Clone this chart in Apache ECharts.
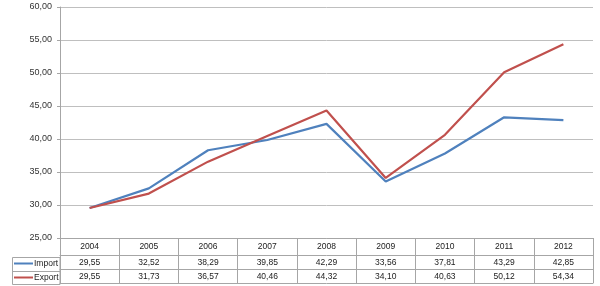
<!DOCTYPE html>
<html><head><meta charset="utf-8">
<script src="https://cdn.jsdelivr.net/npm/echarts@6/dist/echarts.min.js"></script>
<style>html,body{margin:0;padding:0;background:#fff}#c{width:600px;height:286px}</style>
</head><body><div id="c"></div>
<script>
const years = ['2004','2005','2006','2007','2008','2009','2010','2011','2012'];
const importVals = [29.55, 32.52, 38.29, 39.85, 42.29, 33.56, 37.81, 43.29, 42.85];
const exportVals = [29.55, 31.73, 36.57, 40.46, 44.32, 34.10, 40.63, 50.12, 54.34];
const yTicks = {min: 25, max: 60, interval: 5};

const fmt = v => v.toFixed(2).replace('.', ',');
const FONT = 'Liberation Sans';
const lineCol = '#a6a6a6';
const chart = echarts.init(document.getElementById('c'), null, {renderer: 'canvas'});

function tableAxis(labels, offset, margin, showLine) {
  return {
    type: 'category', data: labels, position: 'bottom', offset: offset,
    boundaryGap: true,
    axisLine: {show: showLine, lineStyle: {color: lineCol, width: 1}},
    axisTick: {show: false},
    axisLabel: {show: true, margin: margin, color: '#222', fontFamily: FONT, fontSize: 8.5, interval: 0, hideOverlap: false},
    splitLine: {show: false}
  };
}
function legendFor(name, top) {
  return {
    orient: 'horizontal', left: 14, top: top, itemWidth: 19, itemHeight: 2, padding: 0,
    icon: 'rect', textStyle: {fontFamily: FONT, fontSize: 8.5, color: '#222', padding: [0,0,0,-4]},
    data: [name]
  };
}

chart.setOption({
  animation: false,
  textStyle: {fontFamily: FONT},
  grid: {left: 60, right: 7, top: 7, bottom: 46, containLabel: false},
  legend: [legendFor('Import', 259), legendFor('Export', 273)],
  xAxis: [
    {
      type: 'category', data: years, position: 'bottom', boundaryGap: true,
      axisLine: {show: true, lineStyle: {color: lineCol, width: 1}},
      axisTick: {show: true, length: 45, inside: false, lineStyle: {color: lineCol}},
      axisLabel: {margin: 4, color: '#222', fontFamily: FONT, fontSize: 8.5, interval: 0},
      splitLine: {show: false}
    },
    tableAxis(importVals.map(fmt), 17, 3, true),
    tableAxis(exportVals.map(fmt), 31, 3, true),
    tableAxis(years.map(() => ''), 45, 3, true)
  ],
  yAxis: {
    type: 'value', min: yTicks.min, max: yTicks.max, interval: yTicks.interval,
    axisLine: {show: true, lineStyle: {color: lineCol, width: 1}},
    axisTick: {show: true, length: 3, lineStyle: {color: lineCol}},
    axisLabel: {formatter: v => fmt(v), color: '#333', fontFamily: FONT, fontSize: 9, margin: 8},
    splitLine: {show: true, lineStyle: {color: '#bfbfbf', width: 1}}
  },
  graphic: [
    {type: 'rect', shape: {x: 12.5, y: 257.5, width: 47.5, height: 27}, style: {fill: 'none', stroke: lineCol, lineWidth: 1}, silent: true},
    {type: 'line', shape: {x1: 12.5, y1: 271.5, x2: 60, y2: 271.5}, style: {stroke: lineCol, lineWidth: 1}, silent: true}
  ],
  series: [
    {name: 'Import', type: 'line', data: importVals, xAxisIndex: 0, showSymbol: false, symbol: 'none',
     lineStyle: {color: '#4f81bd', width: 2.2}, itemStyle: {color: '#4f81bd'}},
    {name: 'Export', type: 'line', data: exportVals, xAxisIndex: 0, showSymbol: false, symbol: 'none',
     lineStyle: {color: '#c0504d', width: 2.2}, itemStyle: {color: '#c0504d'}}
  ]
});
</script></body></html>
